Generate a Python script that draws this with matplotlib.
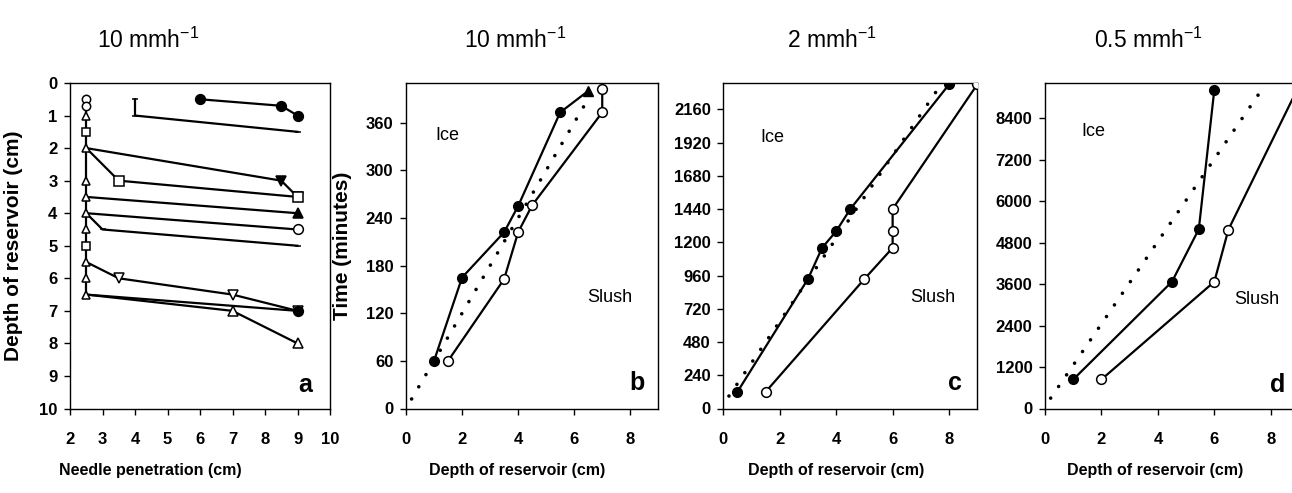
import numpy as np
import matplotlib
matplotlib.use("Agg")
import matplotlib.pyplot as plt

plt.rcParams['font.family'] = ['Liberation Sans', 'DejaVu Sans']
plt.rcParams['mathtext.fontset'] = 'custom'
plt.rcParams['mathtext.rm'] = 'Liberation Sans'
plt.rcParams['mathtext.it'] = 'Liberation Sans'
plt.rcParams['mathtext.bf'] = 'Liberation Sans:bold'

titles = ["10 mmh$^{-1}$", "10 mmh$^{-1}$", "2 mmh$^{-1}$", "0.5 mmh$^{-1}$"]
panel_letters = ['a', 'b', 'c', 'd']

# panel a: needle penetration profiles (x = penetration, y = depth)
col_x = 2.5
col_depth = [0.5, 0.7, 1.0, 1.5, 2.0, 3.0, 3.5, 4.0, 4.5, 5.0, 5.5, 6.0, 6.5]
col_marker = ['o', 'o', '^', 's', '^', '^', '^', '^', '^', 's', '^', '^', '^']

a_x = [[6, 8.5, 9], [4, 4, 9], [2.5, 8.5, 9], [2.5, 3.5, 9], [2.5, 9],
       [2.5, 9], [2.5, 3, 9], [2.5, 3.5, 7, 9], [2.5, 9], [2.5, 7, 9]]
a_y = [[0.5, 0.7, 1.0], [0.5, 1.0, 1.5], [2, 3, 3.5], [2, 3, 3.5], [3.5, 4],
       [4, 4.5], [4, 4.5, 5], [5.5, 6, 6.5, 7], [6.5, 7], [6.5, 7, 8]]
a_marker = ['o', '_', 'v', 's', '^', 'o', '_', 'v', 'o', '^']
a_filled = [True, True, True, False, True, False, True, False, True, False]

# panel b: 10 mm/h
b_ice_x = [1, 2, 3.5, 4, 5.5, 6.5]
b_ice_t = [60, 165, 222, 255, 373, 400]
b_slush_x = [1.5, 3.5, 4, 4.5, 7, 7]
b_slush_t = [60, 163, 222, 256, 373, 402]
b_rate_x = [0.2, 6.45]
b_rate_t = [12, 387]

# panel c: 2 mm/h
c_ice_x = [0.5, 3, 3.5, 4, 4.5, 8]
c_ice_t = [120, 935, 1160, 1280, 1440, 2340]
c_slush_x = [1.5, 5, 6, 6, 6, 9]
c_slush_t = [120, 935, 1160, 1280, 1440, 2340]
c_rate_x = [0.2, 7.55]
c_rate_t = [90, 2290]

# panel d: 0.5 mm/h
d_ice_x = [1, 4.5, 5.45, 6]
d_ice_t = [840, 3670, 5190, 9230]
d_slush_x = [2, 6, 6.5, 9.0]
d_slush_t = [840, 3670, 5180, 9340]
d_rate_x = [0.2, 7.6]
d_rate_t = [300, 9130]

W, H = 1292, 493
fig = plt.figure(figsize=(W / 100, H / 100), dpi=100)

def px_axes(left, right, top=83, bottom=408.5):
    return fig.add_axes([left / W, (H - bottom) / H, (right - left) / W, (bottom - top) / H])

ax_a = px_axes(70, 330)
ax_b = px_axes(406, 658.3)
ax_c = px_axes(723.3, 977.3)
ax_d = px_axes(1045, 1299)
axes = [ax_a, ax_b, ax_c, ax_d]

fs = 12
for ax in axes:
    for s in ax.spines.values():
        s.set_linewidth(1.0)
    ax.tick_params(direction='out', length=4, width=1, labelsize=fs)
    ax.tick_params(axis='x', pad=13)
    ax.tick_params(axis='y', pad=5)

# ---- panel a
ax_a.plot([col_x] * len(col_depth), col_depth, color='black', lw=1.6, zorder=2)
for d, m in zip(col_depth, col_marker):
    ax_a.plot(col_x, d, marker=m, ms=6, mfc='white', mec='black', mew=1.1, zorder=4)
for xs, ys, m, f in zip(a_x, a_y, a_marker, a_filled):
    start = 1 if xs[0] == col_x else 0
    ax_a.plot(xs, ys, color='black', lw=1.6, marker=m, ms=7 if m != '_' else 5,
              mfc='black' if f else 'white', mec='black', mew=1.1,
              markevery=slice(start, None), zorder=3)
ax_a.set_xlim(2, 10)
ax_a.set_ylim(10, 0)
ax_a.set_xticks(range(2, 11))
ax_a.set_yticks(range(0, 11))
ax_a.set_ylabel('Depth of reservoir (cm)', fontsize=15, fontweight='bold')
ax_a.yaxis.set_label_coords(-0.182, 0.5)

# ---- time panels
def time_panel(ax, ice_x, ice_t, slush_x, slush_t, rate_x, rate_t, ymax, step):
    ax.plot(rate_x, rate_t, color='black', lw=2.6, linestyle=(0, (0.01, 3.9)),
            dash_capstyle='round', zorder=2)
    ax.plot(ice_x, ice_t, color='black', lw=1.6, marker='o', ms=7,
            mfc='black', mec='black', zorder=3)
    ax.plot(slush_x, slush_t, color='black', lw=1.6, marker='o', ms=7,
            mfc='white', mec='black', mew=1.1, zorder=3)
    ax.set_xlim(0, 9)
    ax.set_ylim(0, ymax)
    ax.set_xticks([0, 2, 4, 6, 8])
    ax.set_yticks(np.arange(0, ymax, step))

time_panel(ax_b, b_ice_x[:-1], b_ice_t[:-1], b_slush_x, b_slush_t, b_rate_x, b_rate_t, 410, 60)
ax_b.plot(b_ice_x[-2:], b_ice_t[-2:], color='black', lw=1.6)
ax_b.plot(b_ice_x[-1], b_ice_t[-1], marker='^', ms=7, color='black', zorder=4)
time_panel(ax_c, c_ice_x, c_ice_t, c_slush_x, c_slush_t, c_rate_x, c_rate_t, 2350, 240)
time_panel(ax_d, d_ice_x, d_ice_t, d_slush_x, d_slush_t, d_rate_x, d_rate_t, 9420, 1200)
ax_b.set_ylabel('Time (minutes)', fontsize=15, fontweight='bold')
ax_b.yaxis.set_label_coords(-0.214, 0.5)

for ax in axes:
    for lab in ax.get_xticklabels() + ax.get_yticklabels():
        lab.set_fontweight('bold')

# ---- text labels (fig pixel coords)
def ftext(x, y, s, **kw):
    fig.text(x / W, (H - y) / H, s, ha='center', va='center', **kw)

for x, t in zip([148, 515, 832, 1148], titles):
    ftext(x, 40, t, fontsize=16.5)
for x, t in zip([150, 517, 836, 1155], ['Needle penetration (cm)'] + ['Depth of reservoir (cm)'] * 3):
    ftext(x, 470, t, fontsize=11.5, fontweight='bold')
for x, y in [(447, 135), (772, 137), (1093, 132)]:
    ftext(x, y, 'Ice', fontsize=13)
for x, y in [(610, 298), (933, 298), (1257, 300)]:
    ftext(x, y, 'Slush', fontsize=13)
for x, y, s in zip([305, 637, 955, 1278], [385, 383, 383, 385], panel_letters):
    ftext(x, y, s, fontsize=18, fontweight='bold')

fig.savefig('out.png', dpi=100)
